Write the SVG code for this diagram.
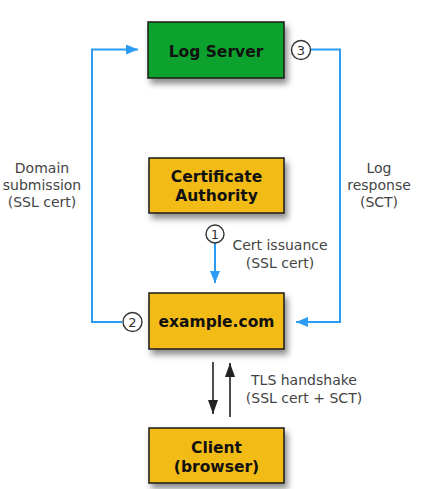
<svg xmlns="http://www.w3.org/2000/svg" width="423" height="489" viewBox="0 0 423 489">
<style>
.box{stroke:#1a1a1a;stroke-width:1.5;filter:url(#sh)}
.yel{fill:#f2bb14}
.grn{fill:#0aa22f}
.bt{font-family:"DejaVu Sans",Verdana,sans-serif;font-weight:bold;font-size:15.5px;fill:#111;text-anchor:middle}
.lt{font-family:"DejaVu Sans",Verdana,sans-serif;font-size:14px;fill:#444;text-anchor:middle}
.num{font-family:"DejaVu Sans",Verdana,sans-serif;font-size:13px;fill:#333;text-anchor:middle}
.circ{fill:#fff;stroke:#333;stroke-width:1.4}
.blue{fill:none;stroke:#2a9cf5;stroke-width:2}
.blk{fill:none;stroke:#222;stroke-width:1.6}
</style>
<defs>
<filter id="sh" x="-20%" y="-20%" width="150%" height="160%">
<feDropShadow dx="3" dy="5" stdDeviation="3" flood-color="#000" flood-opacity="0.45"/>
</filter>
<marker id="ab" markerWidth="12" markerHeight="10" refX="12" refY="5" orient="auto" markerUnits="userSpaceOnUse">
<path d="M0,0 L12,5 L0,10 Z" fill="#2a9cf5"/>
</marker>
<marker id="ak" markerWidth="14" markerHeight="10" refX="14" refY="5" orient="auto" markerUnits="userSpaceOnUse">
<path d="M0,0 L14,5 L0,10 Z" fill="#222"/>
</marker>
</defs>
<rect width="423" height="489" fill="#fff"/>
<g id="connectors">
<path class="blue" d="M122,322 H92 V49.5 H138" marker-end="url(#ab)"/>
<path class="blue" d="M311,49.5 H340 V322 H296" marker-end="url(#ab)"/>
<path class="blue" d="M215,243 V283" marker-end="url(#ab)"/>
<path class="blk" d="M213,362 V414" marker-end="url(#ak)"/>
<path class="blk" d="M230,417 V363" marker-end="url(#ak)"/>
<text class="lt" x="42" y="173">Domain</text>
<text class="lt" x="42" y="190">submission</text>
<text class="lt" x="42" y="207">(SSL cert)</text>
<text class="lt" x="379" y="173">Log</text>
<text class="lt" x="379" y="190">response</text>
<text class="lt" x="379" y="207">(SCT)</text>
<text class="lt" x="280" y="250">Cert issuance</text>
<text class="lt" x="280" y="268">(SSL cert)</text>
<text class="lt" x="304" y="385">TLS handshake</text>
<text class="lt" x="304" y="403">(SSL cert + SCT)</text>
<circle class="circ" cx="215" cy="234" r="9"/>
<text class="num" x="215" y="238.5">1</text>
<circle class="circ" cx="132.5" cy="322" r="9.5"/>
<text class="num" x="132.5" y="326.5">2</text>
<circle class="circ" cx="301" cy="50" r="9.5"/>
<text class="num" x="301" y="54.5">3</text>
</g>
<g id="log-server">
<rect class="box grn" x="148" y="22" width="136" height="56"/>
<text class="bt" x="216" y="56.5">Log Server</text>
</g>
<g id="ca">
<rect class="box yel" x="149" y="158" width="135" height="55"/>
<text class="bt" x="216.5" y="182">Certificate</text>
<text class="bt" x="216.5" y="201">Authority</text>
</g>
<g id="example">
<rect class="box yel" x="149" y="293" width="135" height="56"/>
<text class="bt" x="216.5" y="327">example.com</text>
</g>
<g id="client">
<rect class="box yel" x="149" y="428" width="135" height="55"/>
<text class="bt" x="216.5" y="453">Client</text>
<text class="bt" x="216.5" y="472">(browser)</text>
</g>
</svg>
